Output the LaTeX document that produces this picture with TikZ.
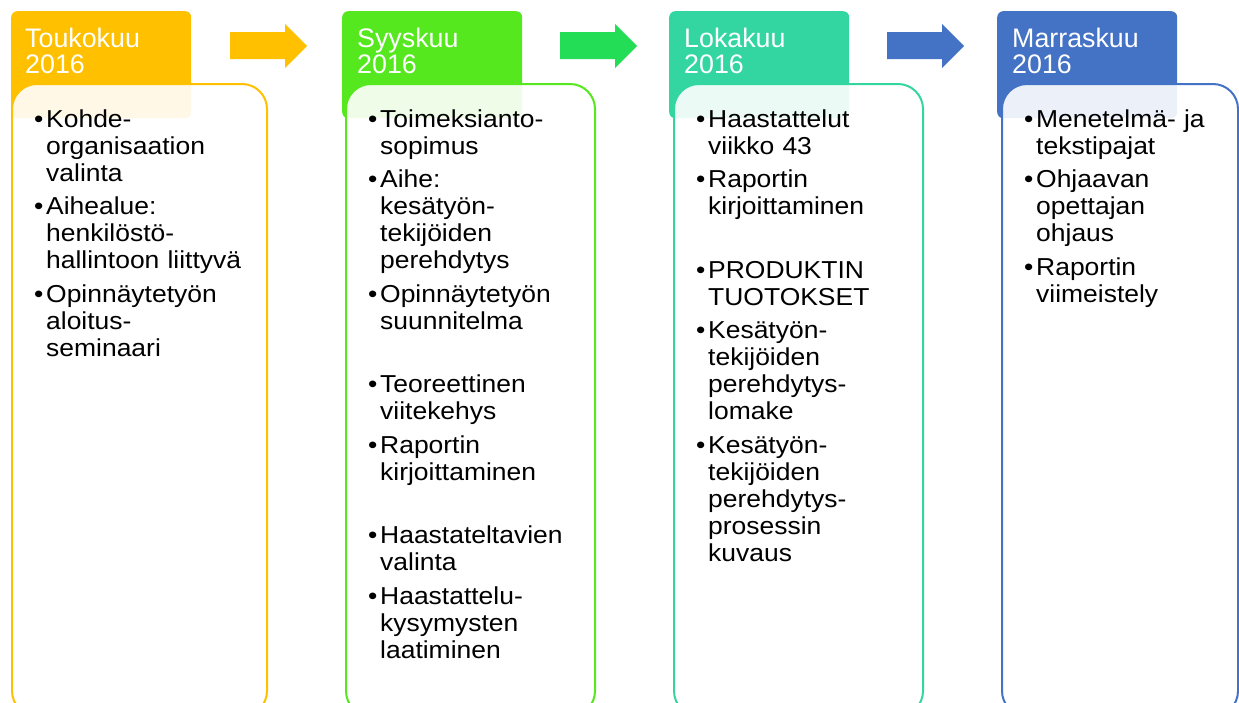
\documentclass[tikz,border=0pt]{standalone}
\usepackage{fontspec}
\setmainfont{Liberation Sans}
\newfontfamily\bodyfamily[FakeStretch=1.08]{Liberation Sans}

\definecolor{cmay}{HTML}{FFC000}
\definecolor{csep}{HTML}{55E81E}
\definecolor{coct}{HTML}{33D6A0}
\definecolor{cnov}{HTML}{4472C4}
\definecolor{arrgreen}{HTML}{22DD55}

% one bullet item with hanging indent; lines are broken by hand
\newcommand\itm[1]{\hangindent=12pt\hangafter=1\noindent\makebox[12pt][l]{\textbullet}#1\par}
\newcommand\lstfont{\bodyfamily\fontsize{24.5}{27}\selectfont\parskip=6.5pt\relax\hyphenpenalty=10000\relax}
\newcommand\ttlfont{\fontsize{26.8}{26}\selectfont}

% block arrow between two columns, left end at x = #1
\newcommand\blockarrow[2]{%
  \fill[#2] (#1,32) -- (#1+55,32) -- (#1+55,24) -- (#1+77,46)
    -- (#1+55,68) -- (#1+55,59) -- (#1,59) -- cycle;}

\tikzset{
  header/.style={anchor=north west, rounded corners=6pt, minimum width=180pt,
    minimum height=107pt, inner sep=0pt, fill=#1},
  panel/.style={anchor=north west, rounded corners=25pt, draw=#1, line width=2pt,
    fill=white, fill opacity=0.9, draw opacity=1, text opacity=1,
    minimum height=632pt, inner sep=0pt},
  title/.style={anchor=base west, text=white, inner sep=0pt, text width=170pt,
    align=left, font=\ttlfont},
  items/.style={anchor=base west, inner sep=0pt, text width=215pt,
    align=left, font=\lstfont},
}

\begin{document}
\begin{tikzpicture}[x=1pt,y=-1pt]
\useasboundingbox (0,0) rectangle (1239,702);
\clip (0,0) rectangle (1239,702);

% arrows
\blockarrow{230}{cmay}
\blockarrow{560}{arrgreen}
\blockarrow{887}{cnov}

% May
\node[header=cmay] (h1) at (11,11) {};
\node[panel=cmay, minimum width=255pt] (p1) at (11,83) {};
\node[title] (t1) at (25,47) {Toukokuu\\2016};
\node[items] (l1) at (34,127) {\lstfont
  \itm{Kohde-\newline organisaation\newline valinta}
  \itm{Aihealue:\newline henkilöstö-\newline hallintoon liittyvä}
  \itm{Opinnäytetyön\newline aloitus-\newline seminaari}};

% September
\node[header=csep] (h2) at (342,11) {};
\node[panel=csep, minimum width=249pt] (p2) at (345,83) {};
\node[title] (t2) at (357,47) {Syyskuu\\2016};
\node[items] (l2) at (368,127) {\lstfont
  \itm{Toimeksianto-\newline sopimus}
  \itm{Aihe:\newline kesätyön-\newline tekijöiden\newline perehdytys}
  \itm{Opinnäytetyön\newline suunnitelma}
  \vspace{30pt}
  \itm{Teoreettinen\newline viitekehys}
  \itm{Raportin\newline kirjoittaminen}
  \vspace{30pt}
  \itm{Haastateltavien\newline valinta}
  \itm{Haastattelu-\newline kysymysten\newline laatiminen}};

% October
\node[header=coct] (h3) at (669,11) {};
\node[panel=coct, minimum width=249pt] (p3) at (673,83) {};
\node[title] (t3) at (684,47) {Lokakuu\\2016};
\node[items] (l3) at (696,127) {\lstfont
  \itm{Haastattelut\newline viikko 43}
  \itm{Raportin\newline kirjoittaminen}
  \vspace{30pt}
  \itm{PRODUKTIN\newline TUOTOKSET}
  \itm{Kesätyön-\newline tekijöiden\newline perehdytys-\newline lomake}
  \itm{Kesätyön-\newline tekijöiden\newline perehdytys-\newline prosessin\newline kuvaus}};

% November
\node[header=cnov] (h4) at (997,11) {};
\node[panel=cnov, minimum width=236pt] (p4) at (1001,83) {};
\node[title] (t4) at (1012,47) {Marraskuu\\2016};
\node[items] (l4) at (1024,127) {\lstfont
  \itm{Menetelmä- ja\newline tekstipajat}
  \itm{Ohjaavan\newline opettajan\newline ohjaus}
  \itm{Raportin\newline viimeistely}};
\end{tikzpicture}
\end{document}
